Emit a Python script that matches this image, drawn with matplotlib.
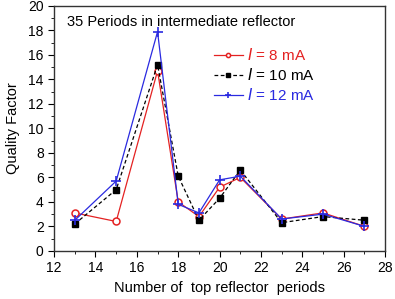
import matplotlib
matplotlib.use('Agg')
import matplotlib.pyplot as plt
from matplotlib.ticker import MultipleLocator

plt.rcParams['font.family'] = ['Liberation Sans', 'DejaVu Sans']

periods = [13, 15, 17, 18, 19, 20, 21, 23, 25, 27]
q_8mA = [3.1, 2.4, 14.7, 4.0, 2.8, 5.2, 6.0, 2.6, 3.1, 2.0]
q_10mA = [2.2, 5.0, 15.2, 6.1, 2.5, 4.3, 6.6, 2.3, 2.8, 2.5]
q_12mA = [2.5, 5.7, 17.9, 3.8, 3.1, 5.8, 6.1, 2.6, 3.0, 2.0]

fig = plt.figure(figsize=(3.95, 2.99), dpi=100)
ax = fig.add_axes([0.137, 0.161, 0.838, 0.819])

ax.plot(periods, q_8mA, color='#e42222', lw=0.9, marker='o', ms=5,
        mfc='white', mec='#e42222', mew=1.1, label=r'$\mathit{I}$ = 8 mA')
ax.plot(periods, q_10mA, color='black', lw=0.9, ls=(0, (3, 2)), marker='s', ms=5,
        mfc='black', mec='black', label=r'$\mathit{I}$ = 10 mA')
ax.plot(periods, q_12mA, color='#2a2ae0', lw=0.9, marker='+', ms=7,
        mew=1.2, label=r'$\mathit{I}$ = 12 mA')

ax.set_xlim(12, 28)
ax.set_ylim(0, 20)
ax.xaxis.set_major_locator(MultipleLocator(2))
ax.xaxis.set_minor_locator(MultipleLocator(1))
ax.yaxis.set_major_locator(MultipleLocator(2))
ax.yaxis.set_minor_locator(MultipleLocator(1))
ax.tick_params(which='major', direction='out', length=4, labelsize=10, top=False, right=False)
ax.tick_params(which='minor', direction='out', length=2.5, top=False, right=False)
for s in ax.spines.values():
    s.set_linewidth(1.0)
    s.set_color('#333333')

ax.set_xlabel('Number of  top reflector  periods', fontsize=10.5)
ax.set_ylabel('Quality Factor', fontsize=10.5, labelpad=6)
ax.text(0.04, 0.965, '35 Periods in intermediate reflector', transform=ax.transAxes,
        fontsize=10.5, va='top', ha='left')

leg = ax.legend(loc='upper left', bbox_to_anchor=(0.45, 0.875), frameon=False,
                fontsize=11, handlelength=1.9, handletextpad=0.3,
                labelspacing=0.25, borderpad=0.2, markerscale=0.6)
for txt, c in zip(leg.get_texts(), ['#e42222', 'black', '#2a2ae0']):
    txt.set_color(c)

fig.savefig('out.png', dpi=100)
